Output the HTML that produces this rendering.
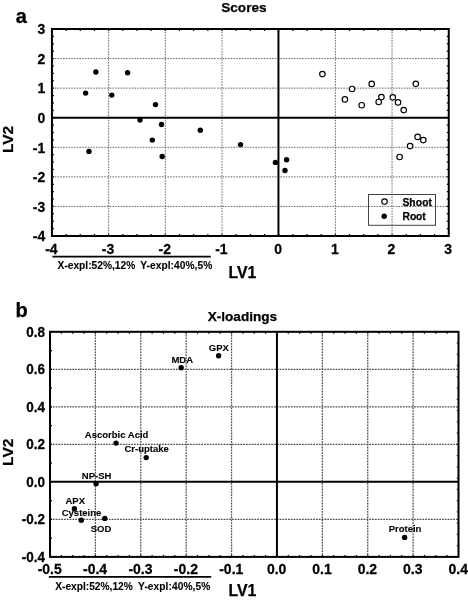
<!DOCTYPE html>
<html><head><meta charset="utf-8"><title>Scores and X-loadings</title>
<style>
html,body{margin:0;padding:0;background:#fff;}
body{width:468px;height:600px;overflow:hidden;}
svg{display:block;}
svg text{font-family:"Liberation Sans", Arial, Helvetica, sans-serif;font-weight:bold;fill:#000;stroke:#000;stroke-width:0.25px;}
svg text.s{stroke-width:0.1px;}
</style></head>
<body>
<svg width="468" height="600" viewBox="0 0 468 600">
<rect width="468" height="600" fill="#fff"/>
<line x1="108.64" y1="29.0" x2="108.64" y2="236.0" stroke="#6a6a6a" stroke-width="1" stroke-dasharray="1.6 1.15"/>
<line x1="165.32" y1="29.0" x2="165.32" y2="236.0" stroke="#6a6a6a" stroke-width="1" stroke-dasharray="1.6 1.15"/>
<line x1="222.01" y1="29.0" x2="222.01" y2="236.0" stroke="#6a6a6a" stroke-width="1" stroke-dasharray="1.6 1.15"/>
<line x1="335.38" y1="29.0" x2="335.38" y2="236.0" stroke="#6a6a6a" stroke-width="1" stroke-dasharray="1.6 1.15"/>
<line x1="392.06" y1="29.0" x2="392.06" y2="236.0" stroke="#6a6a6a" stroke-width="1" stroke-dasharray="1.6 1.15"/>
<line x1="51.95" y1="58.57" x2="448.75" y2="58.57" stroke="#6a6a6a" stroke-width="1" stroke-dasharray="1.6 1.15"/>
<line x1="51.95" y1="88.14" x2="448.75" y2="88.14" stroke="#6a6a6a" stroke-width="1" stroke-dasharray="1.6 1.15"/>
<line x1="51.95" y1="147.29" x2="448.75" y2="147.29" stroke="#6a6a6a" stroke-width="1" stroke-dasharray="1.6 1.15"/>
<line x1="51.95" y1="176.86" x2="448.75" y2="176.86" stroke="#6a6a6a" stroke-width="1" stroke-dasharray="1.6 1.15"/>
<line x1="51.95" y1="206.43" x2="448.75" y2="206.43" stroke="#6a6a6a" stroke-width="1" stroke-dasharray="1.6 1.15"/>
<line x1="278.45" y1="29.0" x2="278.45" y2="236.0" stroke="#000" stroke-width="2"/>
<line x1="51.95" y1="117.71" x2="448.75" y2="117.71" stroke="#000" stroke-width="2"/>
<g stroke="#000" stroke-width="1.2"><line x1="66.12" y1="29.00" x2="66.12" y2="31.00"/><line x1="66.12" y1="236.00" x2="66.12" y2="234.00"/><line x1="80.29" y1="29.00" x2="80.29" y2="31.00"/><line x1="80.29" y1="236.00" x2="80.29" y2="234.00"/><line x1="94.46" y1="29.00" x2="94.46" y2="31.00"/><line x1="94.46" y1="236.00" x2="94.46" y2="234.00"/><line x1="108.64" y1="29.00" x2="108.64" y2="31.00"/><line x1="108.64" y1="236.00" x2="108.64" y2="234.00"/><line x1="122.81" y1="29.00" x2="122.81" y2="31.00"/><line x1="122.81" y1="236.00" x2="122.81" y2="234.00"/><line x1="136.98" y1="29.00" x2="136.98" y2="31.00"/><line x1="136.98" y1="236.00" x2="136.98" y2="234.00"/><line x1="151.15" y1="29.00" x2="151.15" y2="31.00"/><line x1="151.15" y1="236.00" x2="151.15" y2="234.00"/><line x1="165.32" y1="29.00" x2="165.32" y2="31.00"/><line x1="165.32" y1="236.00" x2="165.32" y2="234.00"/><line x1="179.49" y1="29.00" x2="179.49" y2="31.00"/><line x1="179.49" y1="236.00" x2="179.49" y2="234.00"/><line x1="193.66" y1="29.00" x2="193.66" y2="31.00"/><line x1="193.66" y1="236.00" x2="193.66" y2="234.00"/><line x1="207.84" y1="29.00" x2="207.84" y2="31.00"/><line x1="207.84" y1="236.00" x2="207.84" y2="234.00"/><line x1="222.01" y1="29.00" x2="222.01" y2="31.00"/><line x1="222.01" y1="236.00" x2="222.01" y2="234.00"/><line x1="236.18" y1="29.00" x2="236.18" y2="31.00"/><line x1="236.18" y1="236.00" x2="236.18" y2="234.00"/><line x1="250.35" y1="29.00" x2="250.35" y2="31.00"/><line x1="250.35" y1="236.00" x2="250.35" y2="234.00"/><line x1="264.52" y1="29.00" x2="264.52" y2="31.00"/><line x1="264.52" y1="236.00" x2="264.52" y2="234.00"/><line x1="278.69" y1="29.00" x2="278.69" y2="31.00"/><line x1="278.69" y1="236.00" x2="278.69" y2="234.00"/><line x1="292.86" y1="29.00" x2="292.86" y2="31.00"/><line x1="292.86" y1="236.00" x2="292.86" y2="234.00"/><line x1="307.04" y1="29.00" x2="307.04" y2="31.00"/><line x1="307.04" y1="236.00" x2="307.04" y2="234.00"/><line x1="321.21" y1="29.00" x2="321.21" y2="31.00"/><line x1="321.21" y1="236.00" x2="321.21" y2="234.00"/><line x1="335.38" y1="29.00" x2="335.38" y2="31.00"/><line x1="335.38" y1="236.00" x2="335.38" y2="234.00"/><line x1="349.55" y1="29.00" x2="349.55" y2="31.00"/><line x1="349.55" y1="236.00" x2="349.55" y2="234.00"/><line x1="363.72" y1="29.00" x2="363.72" y2="31.00"/><line x1="363.72" y1="236.00" x2="363.72" y2="234.00"/><line x1="377.89" y1="29.00" x2="377.89" y2="31.00"/><line x1="377.89" y1="236.00" x2="377.89" y2="234.00"/><line x1="392.06" y1="29.00" x2="392.06" y2="31.00"/><line x1="392.06" y1="236.00" x2="392.06" y2="234.00"/><line x1="406.24" y1="29.00" x2="406.24" y2="31.00"/><line x1="406.24" y1="236.00" x2="406.24" y2="234.00"/><line x1="420.41" y1="29.00" x2="420.41" y2="31.00"/><line x1="420.41" y1="236.00" x2="420.41" y2="234.00"/><line x1="434.58" y1="29.00" x2="434.58" y2="31.00"/><line x1="434.58" y1="236.00" x2="434.58" y2="234.00"/><line x1="51.95" y1="36.39" x2="53.95" y2="36.39"/><line x1="448.75" y1="36.39" x2="446.75" y2="36.39"/><line x1="51.95" y1="43.79" x2="53.95" y2="43.79"/><line x1="448.75" y1="43.79" x2="446.75" y2="43.79"/><line x1="51.95" y1="51.18" x2="53.95" y2="51.18"/><line x1="448.75" y1="51.18" x2="446.75" y2="51.18"/><line x1="51.95" y1="58.57" x2="53.95" y2="58.57"/><line x1="448.75" y1="58.57" x2="446.75" y2="58.57"/><line x1="51.95" y1="65.96" x2="53.95" y2="65.96"/><line x1="448.75" y1="65.96" x2="446.75" y2="65.96"/><line x1="51.95" y1="73.36" x2="53.95" y2="73.36"/><line x1="448.75" y1="73.36" x2="446.75" y2="73.36"/><line x1="51.95" y1="80.75" x2="53.95" y2="80.75"/><line x1="448.75" y1="80.75" x2="446.75" y2="80.75"/><line x1="51.95" y1="88.14" x2="53.95" y2="88.14"/><line x1="448.75" y1="88.14" x2="446.75" y2="88.14"/><line x1="51.95" y1="95.54" x2="53.95" y2="95.54"/><line x1="448.75" y1="95.54" x2="446.75" y2="95.54"/><line x1="51.95" y1="102.93" x2="53.95" y2="102.93"/><line x1="448.75" y1="102.93" x2="446.75" y2="102.93"/><line x1="51.95" y1="110.32" x2="53.95" y2="110.32"/><line x1="448.75" y1="110.32" x2="446.75" y2="110.32"/><line x1="51.95" y1="117.71" x2="53.95" y2="117.71"/><line x1="448.75" y1="117.71" x2="446.75" y2="117.71"/><line x1="51.95" y1="125.11" x2="53.95" y2="125.11"/><line x1="448.75" y1="125.11" x2="446.75" y2="125.11"/><line x1="51.95" y1="132.50" x2="53.95" y2="132.50"/><line x1="448.75" y1="132.50" x2="446.75" y2="132.50"/><line x1="51.95" y1="139.89" x2="53.95" y2="139.89"/><line x1="448.75" y1="139.89" x2="446.75" y2="139.89"/><line x1="51.95" y1="147.29" x2="53.95" y2="147.29"/><line x1="448.75" y1="147.29" x2="446.75" y2="147.29"/><line x1="51.95" y1="154.68" x2="53.95" y2="154.68"/><line x1="448.75" y1="154.68" x2="446.75" y2="154.68"/><line x1="51.95" y1="162.07" x2="53.95" y2="162.07"/><line x1="448.75" y1="162.07" x2="446.75" y2="162.07"/><line x1="51.95" y1="169.46" x2="53.95" y2="169.46"/><line x1="448.75" y1="169.46" x2="446.75" y2="169.46"/><line x1="51.95" y1="176.86" x2="53.95" y2="176.86"/><line x1="448.75" y1="176.86" x2="446.75" y2="176.86"/><line x1="51.95" y1="184.25" x2="53.95" y2="184.25"/><line x1="448.75" y1="184.25" x2="446.75" y2="184.25"/><line x1="51.95" y1="191.64" x2="53.95" y2="191.64"/><line x1="448.75" y1="191.64" x2="446.75" y2="191.64"/><line x1="51.95" y1="199.04" x2="53.95" y2="199.04"/><line x1="448.75" y1="199.04" x2="446.75" y2="199.04"/><line x1="51.95" y1="206.43" x2="53.95" y2="206.43"/><line x1="448.75" y1="206.43" x2="446.75" y2="206.43"/><line x1="51.95" y1="213.82" x2="53.95" y2="213.82"/><line x1="448.75" y1="213.82" x2="446.75" y2="213.82"/><line x1="51.95" y1="221.21" x2="53.95" y2="221.21"/><line x1="448.75" y1="221.21" x2="446.75" y2="221.21"/><line x1="51.95" y1="228.61" x2="53.95" y2="228.61"/><line x1="448.75" y1="228.61" x2="446.75" y2="228.61"/></g>
<rect x="51.95" y="29.0" width="396.80" height="207.0" fill="none" stroke="#000" stroke-width="2"/>
<circle cx="95.8" cy="72.0" r="2.7"/>
<circle cx="127.6" cy="72.8" r="2.7"/>
<circle cx="85.6" cy="93.1" r="2.7"/>
<circle cx="111.8" cy="95.1" r="2.7"/>
<circle cx="155.5" cy="104.6" r="2.7"/>
<circle cx="140.0" cy="120.0" r="2.7"/>
<circle cx="161.5" cy="124.5" r="2.7"/>
<circle cx="152.3" cy="140.1" r="2.7"/>
<circle cx="89.0" cy="151.4" r="2.7"/>
<circle cx="162.2" cy="156.5" r="2.7"/>
<circle cx="200.3" cy="130.3" r="2.7"/>
<circle cx="240.5" cy="144.6" r="2.7"/>
<circle cx="275.4" cy="162.4" r="2.7"/>
<circle cx="286.6" cy="159.7" r="2.7"/>
<circle cx="285.0" cy="170.5" r="2.7"/>
<circle cx="322.4" cy="74.1" r="2.75" fill="#fff" stroke="#000" stroke-width="1.15"/>
<circle cx="352.1" cy="89.0" r="2.75" fill="#fff" stroke="#000" stroke-width="1.15"/>
<circle cx="371.7" cy="83.9" r="2.75" fill="#fff" stroke="#000" stroke-width="1.15"/>
<circle cx="415.8" cy="83.8" r="2.75" fill="#fff" stroke="#000" stroke-width="1.15"/>
<circle cx="344.9" cy="99.4" r="2.75" fill="#fff" stroke="#000" stroke-width="1.15"/>
<circle cx="361.7" cy="105.2" r="2.75" fill="#fff" stroke="#000" stroke-width="1.15"/>
<circle cx="381.4" cy="97.1" r="2.75" fill="#fff" stroke="#000" stroke-width="1.15"/>
<circle cx="378.7" cy="102.0" r="2.75" fill="#fff" stroke="#000" stroke-width="1.15"/>
<circle cx="392.8" cy="97.3" r="2.75" fill="#fff" stroke="#000" stroke-width="1.15"/>
<circle cx="398.0" cy="102.4" r="2.75" fill="#fff" stroke="#000" stroke-width="1.15"/>
<circle cx="403.7" cy="110.1" r="2.75" fill="#fff" stroke="#000" stroke-width="1.15"/>
<circle cx="417.6" cy="136.9" r="2.75" fill="#fff" stroke="#000" stroke-width="1.15"/>
<circle cx="423.3" cy="140.1" r="2.75" fill="#fff" stroke="#000" stroke-width="1.15"/>
<circle cx="410.1" cy="146.1" r="2.75" fill="#fff" stroke="#000" stroke-width="1.15"/>
<circle cx="399.6" cy="157.0" r="2.75" fill="#fff" stroke="#000" stroke-width="1.15"/>
<rect x="368.5" y="194.5" width="67" height="30.8" fill="none" stroke="#444" stroke-width="1"/>
<circle cx="384.5" cy="201.6" r="2.75" fill="#fff" stroke="#000" stroke-width="1.15"/>
<circle cx="384.2" cy="216.2" r="2.7"/>
<text transform="translate(402.40,205.60)" font-size="10.3" textLength="29.6">Shoot</text>
<text transform="translate(402.60,220.30)" font-size="10.3" textLength="23.0">Root</text>
<text transform="translate(45.30,34.30) scale(1.0,1.1)" font-size="14" text-anchor="end">3</text>
<text transform="translate(45.30,63.87) scale(1.0,1.1)" font-size="14" text-anchor="end">2</text>
<text transform="translate(45.30,93.44) scale(1.0,1.1)" font-size="14" text-anchor="end">1</text>
<text transform="translate(45.30,123.01) scale(1.0,1.1)" font-size="14" text-anchor="end">0</text>
<text transform="translate(45.30,152.59) scale(1.0,1.1)" font-size="14" text-anchor="end">-1</text>
<text transform="translate(45.30,182.16) scale(1.0,1.1)" font-size="14" text-anchor="end">-2</text>
<text transform="translate(45.30,211.73) scale(1.0,1.1)" font-size="14" text-anchor="end">-3</text>
<text transform="translate(45.30,241.30) scale(1.0,1.1)" font-size="14" text-anchor="end">-4</text>
<text transform="translate(51.35,254.30) scale(1.0,1.1)" font-size="14" text-anchor="middle">-4</text>
<text transform="translate(108.04,254.30) scale(1.0,1.1)" font-size="14" text-anchor="middle">-3</text>
<text transform="translate(164.72,254.30) scale(1.0,1.1)" font-size="14" text-anchor="middle">-2</text>
<text transform="translate(221.41,254.30) scale(1.0,1.1)" font-size="14" text-anchor="middle">-1</text>
<text transform="translate(278.09,254.30) scale(1.0,1.1)" font-size="14" text-anchor="middle">0</text>
<text transform="translate(334.78,254.30) scale(1.0,1.1)" font-size="14" text-anchor="middle">1</text>
<text transform="translate(391.46,254.30) scale(1.0,1.1)" font-size="14" text-anchor="middle">2</text>
<text transform="translate(448.15,254.30) scale(1.0,1.1)" font-size="14" text-anchor="middle">3</text>
<text transform="translate(15.70,23.00)" font-size="20">a</text>
<text transform="translate(243.90,12.40)" font-size="13.6" text-anchor="middle">Scores</text>
<text transform="translate(13.00,139.40) rotate(-90)" font-size="15.5" text-anchor="middle">LV2</text>
<text transform="translate(242.40,277.80)" font-size="15.8" text-anchor="middle">LV1</text>
<line x1="52.4" y1="256.6" x2="210.8" y2="256.6" stroke="#000" stroke-width="1.8"/>
<text transform="translate(57.60,268.90)" font-size="10.2" textLength="77.6" class="s">X-expl:52%,12%</text>
<text transform="translate(140.20,268.90)" font-size="10.2" textLength="72.1" class="s">Y-expl:40%,5%</text>
<line x1="95.39" y1="331.8" x2="95.39" y2="556.9" stroke="#505050" stroke-width="1.25" stroke-dasharray="1.8 1.0"/>
<line x1="140.78" y1="331.8" x2="140.78" y2="556.9" stroke="#505050" stroke-width="1.25" stroke-dasharray="1.8 1.0"/>
<line x1="186.17" y1="331.8" x2="186.17" y2="556.9" stroke="#505050" stroke-width="1.25" stroke-dasharray="1.8 1.0"/>
<line x1="231.56" y1="331.8" x2="231.56" y2="556.9" stroke="#505050" stroke-width="1.25" stroke-dasharray="1.8 1.0"/>
<line x1="322.33" y1="331.8" x2="322.33" y2="556.9" stroke="#505050" stroke-width="1.25" stroke-dasharray="1.8 1.0"/>
<line x1="367.72" y1="331.8" x2="367.72" y2="556.9" stroke="#505050" stroke-width="1.25" stroke-dasharray="1.8 1.0"/>
<line x1="413.11" y1="331.8" x2="413.11" y2="556.9" stroke="#505050" stroke-width="1.25" stroke-dasharray="1.8 1.0"/>
<line x1="50.0" y1="369.32" x2="458.5" y2="369.32" stroke="#505050" stroke-width="1.25" stroke-dasharray="1.8 1.0"/>
<line x1="50.0" y1="406.83" x2="458.5" y2="406.83" stroke="#505050" stroke-width="1.25" stroke-dasharray="1.8 1.0"/>
<line x1="50.0" y1="444.35" x2="458.5" y2="444.35" stroke="#505050" stroke-width="1.25" stroke-dasharray="1.8 1.0"/>
<line x1="50.0" y1="519.38" x2="458.5" y2="519.38" stroke="#505050" stroke-width="1.25" stroke-dasharray="1.8 1.0"/>
<line x1="276.94" y1="331.8" x2="276.94" y2="556.9" stroke="#000" stroke-width="2"/>
<line x1="50.0" y1="481.87" x2="458.5" y2="481.87" stroke="#000" stroke-width="2"/>
<g stroke="#000" stroke-width="1.2"><line x1="61.35" y1="331.80" x2="61.35" y2="333.80"/><line x1="61.35" y1="556.90" x2="61.35" y2="554.90"/><line x1="72.69" y1="331.80" x2="72.69" y2="333.80"/><line x1="72.69" y1="556.90" x2="72.69" y2="554.90"/><line x1="84.04" y1="331.80" x2="84.04" y2="333.80"/><line x1="84.04" y1="556.90" x2="84.04" y2="554.90"/><line x1="95.39" y1="331.80" x2="95.39" y2="333.80"/><line x1="95.39" y1="556.90" x2="95.39" y2="554.90"/><line x1="106.74" y1="331.80" x2="106.74" y2="333.80"/><line x1="106.74" y1="556.90" x2="106.74" y2="554.90"/><line x1="118.08" y1="331.80" x2="118.08" y2="333.80"/><line x1="118.08" y1="556.90" x2="118.08" y2="554.90"/><line x1="129.43" y1="331.80" x2="129.43" y2="333.80"/><line x1="129.43" y1="556.90" x2="129.43" y2="554.90"/><line x1="140.78" y1="331.80" x2="140.78" y2="333.80"/><line x1="140.78" y1="556.90" x2="140.78" y2="554.90"/><line x1="152.12" y1="331.80" x2="152.12" y2="333.80"/><line x1="152.12" y1="556.90" x2="152.12" y2="554.90"/><line x1="163.47" y1="331.80" x2="163.47" y2="333.80"/><line x1="163.47" y1="556.90" x2="163.47" y2="554.90"/><line x1="174.82" y1="331.80" x2="174.82" y2="333.80"/><line x1="174.82" y1="556.90" x2="174.82" y2="554.90"/><line x1="186.17" y1="331.80" x2="186.17" y2="333.80"/><line x1="186.17" y1="556.90" x2="186.17" y2="554.90"/><line x1="197.51" y1="331.80" x2="197.51" y2="333.80"/><line x1="197.51" y1="556.90" x2="197.51" y2="554.90"/><line x1="208.86" y1="331.80" x2="208.86" y2="333.80"/><line x1="208.86" y1="556.90" x2="208.86" y2="554.90"/><line x1="220.21" y1="331.80" x2="220.21" y2="333.80"/><line x1="220.21" y1="556.90" x2="220.21" y2="554.90"/><line x1="231.56" y1="331.80" x2="231.56" y2="333.80"/><line x1="231.56" y1="556.90" x2="231.56" y2="554.90"/><line x1="242.90" y1="331.80" x2="242.90" y2="333.80"/><line x1="242.90" y1="556.90" x2="242.90" y2="554.90"/><line x1="254.25" y1="331.80" x2="254.25" y2="333.80"/><line x1="254.25" y1="556.90" x2="254.25" y2="554.90"/><line x1="265.60" y1="331.80" x2="265.60" y2="333.80"/><line x1="265.60" y1="556.90" x2="265.60" y2="554.90"/><line x1="276.94" y1="331.80" x2="276.94" y2="333.80"/><line x1="276.94" y1="556.90" x2="276.94" y2="554.90"/><line x1="288.29" y1="331.80" x2="288.29" y2="333.80"/><line x1="288.29" y1="556.90" x2="288.29" y2="554.90"/><line x1="299.64" y1="331.80" x2="299.64" y2="333.80"/><line x1="299.64" y1="556.90" x2="299.64" y2="554.90"/><line x1="310.99" y1="331.80" x2="310.99" y2="333.80"/><line x1="310.99" y1="556.90" x2="310.99" y2="554.90"/><line x1="322.33" y1="331.80" x2="322.33" y2="333.80"/><line x1="322.33" y1="556.90" x2="322.33" y2="554.90"/><line x1="333.68" y1="331.80" x2="333.68" y2="333.80"/><line x1="333.68" y1="556.90" x2="333.68" y2="554.90"/><line x1="345.03" y1="331.80" x2="345.03" y2="333.80"/><line x1="345.03" y1="556.90" x2="345.03" y2="554.90"/><line x1="356.38" y1="331.80" x2="356.38" y2="333.80"/><line x1="356.38" y1="556.90" x2="356.38" y2="554.90"/><line x1="367.72" y1="331.80" x2="367.72" y2="333.80"/><line x1="367.72" y1="556.90" x2="367.72" y2="554.90"/><line x1="379.07" y1="331.80" x2="379.07" y2="333.80"/><line x1="379.07" y1="556.90" x2="379.07" y2="554.90"/><line x1="390.42" y1="331.80" x2="390.42" y2="333.80"/><line x1="390.42" y1="556.90" x2="390.42" y2="554.90"/><line x1="401.76" y1="331.80" x2="401.76" y2="333.80"/><line x1="401.76" y1="556.90" x2="401.76" y2="554.90"/><line x1="413.11" y1="331.80" x2="413.11" y2="333.80"/><line x1="413.11" y1="556.90" x2="413.11" y2="554.90"/><line x1="424.46" y1="331.80" x2="424.46" y2="333.80"/><line x1="424.46" y1="556.90" x2="424.46" y2="554.90"/><line x1="435.81" y1="331.80" x2="435.81" y2="333.80"/><line x1="435.81" y1="556.90" x2="435.81" y2="554.90"/><line x1="447.15" y1="331.80" x2="447.15" y2="333.80"/><line x1="447.15" y1="556.90" x2="447.15" y2="554.90"/><line x1="50.00" y1="350.56" x2="52.00" y2="350.56"/><line x1="50.00" y1="369.32" x2="52.00" y2="369.32"/><line x1="50.00" y1="388.07" x2="52.00" y2="388.07"/><line x1="50.00" y1="406.83" x2="52.00" y2="406.83"/><line x1="50.00" y1="425.59" x2="52.00" y2="425.59"/><line x1="50.00" y1="444.35" x2="52.00" y2="444.35"/><line x1="50.00" y1="463.11" x2="52.00" y2="463.11"/><line x1="50.00" y1="481.87" x2="52.00" y2="481.87"/><line x1="50.00" y1="500.62" x2="52.00" y2="500.62"/><line x1="50.00" y1="519.38" x2="52.00" y2="519.38"/><line x1="50.00" y1="538.14" x2="52.00" y2="538.14"/><line x1="458.50" y1="343.06" x2="456.80" y2="343.06"/><line x1="458.50" y1="354.31" x2="456.80" y2="354.31"/><line x1="458.50" y1="365.56" x2="456.80" y2="365.56"/><line x1="458.50" y1="376.82" x2="456.80" y2="376.82"/><line x1="458.50" y1="388.07" x2="456.80" y2="388.07"/><line x1="458.50" y1="399.33" x2="456.80" y2="399.33"/><line x1="458.50" y1="410.59" x2="456.80" y2="410.59"/><line x1="458.50" y1="421.84" x2="456.80" y2="421.84"/><line x1="458.50" y1="433.10" x2="456.80" y2="433.10"/><line x1="458.50" y1="444.35" x2="456.80" y2="444.35"/><line x1="458.50" y1="455.61" x2="456.80" y2="455.61"/><line x1="458.50" y1="466.86" x2="456.80" y2="466.86"/><line x1="458.50" y1="478.12" x2="456.80" y2="478.12"/><line x1="458.50" y1="489.37" x2="456.80" y2="489.37"/><line x1="458.50" y1="500.62" x2="456.80" y2="500.62"/><line x1="458.50" y1="511.88" x2="456.80" y2="511.88"/><line x1="458.50" y1="523.13" x2="456.80" y2="523.13"/><line x1="458.50" y1="534.39" x2="456.80" y2="534.39"/><line x1="458.50" y1="545.64" x2="456.80" y2="545.64"/></g>
<rect x="50.0" y="331.8" width="408.5" height="225.10" fill="none" stroke="#000" stroke-width="2"/>
<circle cx="218.6" cy="355.7" r="2.7"/>
<circle cx="181.2" cy="367.8" r="2.7"/>
<circle cx="116.0" cy="443.1" r="2.7"/>
<circle cx="146.2" cy="457.6" r="2.7"/>
<circle cx="96.1" cy="483.7" r="2.7"/>
<circle cx="74.4" cy="508.8" r="2.7"/>
<circle cx="81.2" cy="520.3" r="2.7"/>
<circle cx="104.8" cy="518.4" r="2.7"/>
<circle cx="404.6" cy="537.4" r="2.7"/>
<text transform="translate(218.80,350.70)" font-size="9.5" text-anchor="middle" class="s">GPX</text>
<text transform="translate(182.20,363.20)" font-size="9.5" text-anchor="middle" class="s">MDA</text>
<text transform="translate(116.60,438.00)" font-size="9.5" text-anchor="middle" class="s">Ascorbic Acid</text>
<text transform="translate(146.60,452.00)" font-size="9.5" text-anchor="middle" class="s">Cr-uptake</text>
<text transform="translate(96.60,478.90)" font-size="9.5" text-anchor="middle" class="s">NP-SH</text>
<text transform="translate(75.20,504.00)" font-size="9.5" text-anchor="middle" class="s">APX</text>
<text transform="translate(81.50,515.80)" font-size="9.5" text-anchor="middle" class="s">Cysteine</text>
<text transform="translate(101.00,532.00)" font-size="9.5" text-anchor="middle" class="s">SOD</text>
<text transform="translate(405.00,532.10)" font-size="9.5" text-anchor="middle" class="s">Protein</text>
<text transform="translate(44.90,336.80) scale(1.0,1.13)" font-size="13.5" text-anchor="end">0.8</text>
<text transform="translate(44.90,374.32) scale(1.0,1.13)" font-size="13.5" text-anchor="end">0.6</text>
<text transform="translate(44.90,411.83) scale(1.0,1.13)" font-size="13.5" text-anchor="end">0.4</text>
<text transform="translate(44.90,449.35) scale(1.0,1.13)" font-size="13.5" text-anchor="end">0.2</text>
<text transform="translate(44.90,486.87) scale(1.0,1.13)" font-size="13.5" text-anchor="end">0.0</text>
<text transform="translate(44.90,524.38) scale(1.0,1.13)" font-size="13.5" text-anchor="end">-0.2</text>
<text transform="translate(44.90,561.90) scale(1.0,1.13)" font-size="13.5" text-anchor="end">-0.4</text>
<text transform="translate(49.70,574.00) scale(1.0,1.1)" font-size="14" text-anchor="middle">-0.5</text>
<text transform="translate(95.09,574.00) scale(1.0,1.1)" font-size="14" text-anchor="middle">-0.4</text>
<text transform="translate(140.48,574.00) scale(1.0,1.1)" font-size="14" text-anchor="middle">-0.3</text>
<text transform="translate(185.87,574.00) scale(1.0,1.1)" font-size="14" text-anchor="middle">-0.2</text>
<text transform="translate(231.26,574.00) scale(1.0,1.1)" font-size="14" text-anchor="middle">-0.1</text>
<text transform="translate(276.64,574.00) scale(1.0,1.1)" font-size="14" text-anchor="middle">0.0</text>
<text transform="translate(322.03,574.00) scale(1.0,1.1)" font-size="14" text-anchor="middle">0.1</text>
<text transform="translate(367.42,574.00) scale(1.0,1.1)" font-size="14" text-anchor="middle">0.2</text>
<text transform="translate(412.81,574.00) scale(1.0,1.1)" font-size="14" text-anchor="middle">0.3</text>
<text transform="translate(458.20,574.00) scale(1.0,1.1)" font-size="14" text-anchor="middle">0.4</text>
<text transform="translate(15.50,317.20)" font-size="20">b</text>
<text transform="translate(242.40,320.70)" font-size="13.6" text-anchor="middle">X-loadings</text>
<text transform="translate(13.00,452.30) rotate(-90)" font-size="15.5" text-anchor="middle">LV2</text>
<text transform="translate(242.40,596.00)" font-size="15.8" text-anchor="middle">LV1</text>
<line x1="48.9" y1="576.8" x2="211.2" y2="576.8" stroke="#000" stroke-width="1.8"/>
<text transform="translate(55.20,589.90)" font-size="10.2" textLength="77.6" class="s">X-expl:52%,12%</text>
<text transform="translate(138.10,589.90)" font-size="10.2" textLength="72.1" class="s">Y-expl:40%,5%</text>
</svg>
</body></html>
